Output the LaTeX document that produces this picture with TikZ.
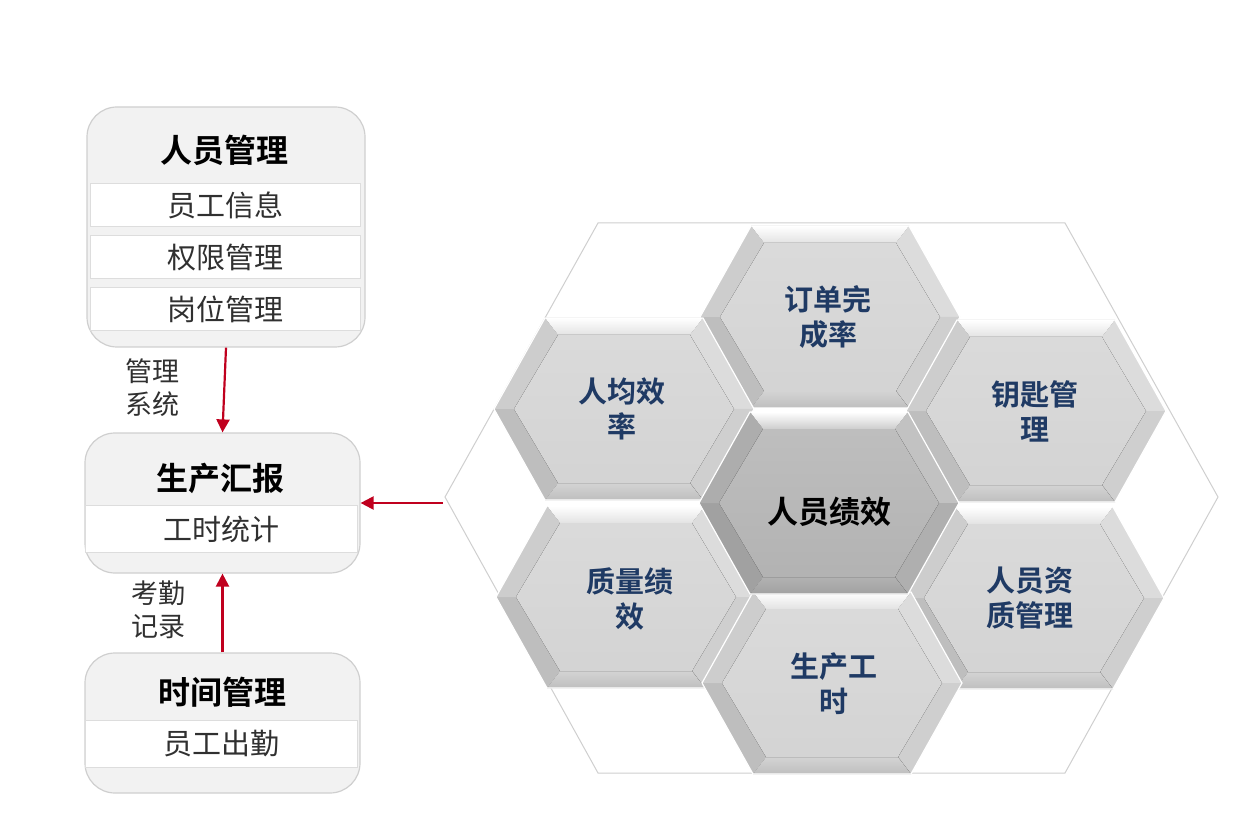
\documentclass[tikz,border=0pt]{standalone}
\usepackage{fontspec}
\setmainfont{Noto Sans CJK SC}[BoldFont={Noto Sans CJK SC Bold}]
\usepackage{xcolor}
\usepackage{tikz}
\usetikzlibrary{arrows.meta}

\definecolor{arrowred}{HTML}{C0001E}
\definecolor{kpiblue}{HTML}{1F3A64}
\definecolor{panelgray}{HTML}{F2F2F2}
\definecolor{rimgray}{HTML}{CFCFCF}
\definecolor{bodytext}{HTML}{303030}
\colorlet{cellface}{black!17}
\colorlet{coreface}{black!30}

\begin{document}
\begin{tikzpicture}[x=1pt,y=-1pt,
    panel/.style={draw=rimgray,line width=1.2pt,fill=panelgray,rounded corners=30pt},
    rowbox/.style={draw=rimgray!70,line width=1pt,fill=white,text=bodytext,font=\fontsize{29}{32}\selectfont},
    headtext/.style={font=\bfseries\fontsize{32}{36}\selectfont,text=black},
    notetext/.style={align=center,text=bodytext,font=\fontsize{27}{33}\selectfont},
    kpitext/.style={align=center,text=kpiblue,font=\bfseries\fontsize{29}{35}\selectfont},
    flow/.style={draw=arrowred,line width=2.2pt,-{Triangle[length=13pt,width=13pt]}},
    pics/hexcell/.style={code={
        \fill[top color=white,bottom color=#1!65!white] (-79,-91)--(79,-91)--(66,-74)--(-66,-74)--cycle;
        \fill[#1!80!white] (79,-91)--(130,0)--(110,0)--(66,-74)--cycle;
        \fill[#1!98!black] (130,0)--(79,91)--(66,74)--(110,0)--cycle;
        \fill[top color=#1,bottom color=#1!90!black] (79,91)--(-79,91)--(-66,74)--(66,74)--cycle;
        \fill[#1!90!black] (-79,91)--(-130,0)--(-110,0)--(-66,74)--cycle;
        \fill[#1!97!black] (-130,0)--(-79,-91)--(-66,-74)--(-110,0)--cycle;
        \fill[top color=#1!85!white,bottom color=#1] (-110,0)--(-66,-74)--(66,-74)--(110,0)--(66,74)--(-66,74)--cycle;
        \draw[white,line width=1.2pt] (-130,0)--(-79,-91)--(79,-91)--(130,0)--(79,91)--(-79,91)--cycle;
    }}]
\useasboundingbox (0,0) rectangle (1243,818);

\node[panel,minimum width=278pt,minimum height=240pt] (staff) at (226,227) {};
\node[headtext] (stafftitle) at (224,150) {人员管理};
\node[rowbox,minimum width=270pt,minimum height=43pt] (staffinfo) at (225,205) {员工信息};
\node[rowbox,minimum width=270pt,minimum height=43pt] (rights) at (225,257) {权限管理};
\node[rowbox,minimum width=270pt,minimum height=43pt] (posts) at (225,309) {岗位管理};

\node[panel,minimum width=275pt,minimum height=140pt] (report) at (222.5,503) {};
\node[headtext] (reporttitle) at (220,478) {生产汇报};
\node[rowbox,minimum width=272pt,minimum height=47pt] (hours) at (221,529) {工时统计};

\node[panel,minimum width=275pt,minimum height=140pt] (clock) at (222.5,723) {};
\node[headtext] (clocktitle) at (222,692) {时间管理};
\node[rowbox,minimum width=272pt,minimum height=47pt] (attend) at (221,744) {员工出勤};

\node[notetext] (mgmtnote) at (152,388) {管理\\系统};
\node[notetext] (attnote) at (158,610) {考勤\\记录};

\filldraw[draw=rimgray,line width=1pt,fill=white] (445,497)--(598,223)--(1065,223)--(1218,497)--(1065,773)--(598,773)--cycle;
\coordinate (hexleft) at (443,503);

\pic at (830,317) {hexcell=cellface};
\node[kpitext] (orders) at (828,317) {订单完\\成率};
\pic at (624,409) {hexcell=cellface};
\node[kpitext] (avgeff) at (622,409) {人均效\\率};
\pic at (1036,411) {hexcell=cellface};
\node[kpitext] (keys) at (1035,411) {钥匙管\\理};
\pic at (626,597) {hexcell=cellface};
\node[kpitext] (quality) at (630,599) {质量绩\\效};
\pic at (1034,598) {hexcell=cellface};
\node[kpitext] (qualify) at (1030,598) {人员资\\质管理};
\pic at (832,683) {hexcell=cellface};
\node[kpitext] (worktime) at (834,684) {生产工\\时};
\pic at (829,503) {hexcell=coreface};
\node[headtext,font=\bfseries\fontsize{31}{36}\selectfont] (kpi) at (829,512) {人员绩效};

\draw[flow] (staff.south) -- (report.north);
\draw[flow] (clock.north) -- (report.south);
\draw[flow] (hexleft) -- (report.east);
\end{tikzpicture}
\end{document}
